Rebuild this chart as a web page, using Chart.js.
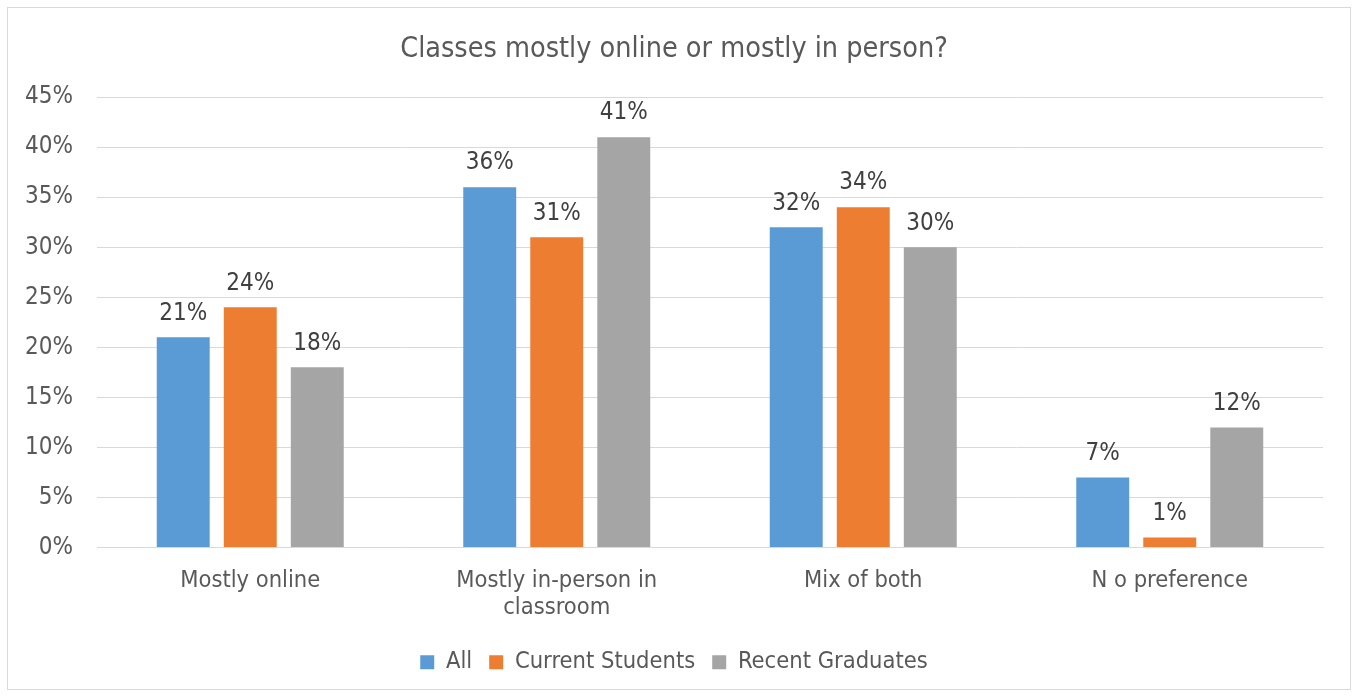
<!DOCTYPE html>
<html>
<head>
<meta charset="utf-8">
<script src="https://cdn.jsdelivr.net/npm/chart.js@4"></script>
<style>
  body { margin: 0; background: #fff; }
  canvas { display: block; }
</style>
</head>
<body>
<canvas id="grafico" width="1353" height="696"></canvas>
<script>
// datos del grafico
const categorias = ["Mostly online", ["Mostly in-person in", "classroom"], "Mix of both", "N o preference"];
const serieTodos = [21, 36, 32, 7];
const serieEstudiantes = [24, 31, 34, 1];
const serieGraduados = [18, 41, 30, 12];
const nombresSeries = ["All", "Current Students", "Recent Graduates"];
const ticksY = [0, 5, 10, 15, 20, 25, 30, 35, 40, 45];

const fuente = "'DejaVu Sans Condensed', 'DejaVu Sans', sans-serif";
const colorTexto = "#595959";

// marco gris alrededor del grafico
const marco = {
  id: "marco",
  beforeDraw(chart) {
    const ctx = chart.ctx;
    ctx.save();
    ctx.fillStyle = "#fff";
    ctx.fillRect(0, 0, chart.width, chart.height);
    ctx.strokeStyle = "#d9d9d9";
    ctx.lineWidth = 1;
    ctx.strokeRect(7.5, 7.5, 1343, 682);
    ctx.restore();
  }
};

// etiquetas arriba de cada barra
const etiquetas = {
  id: "etiquetas",
  afterDatasetsDraw(chart) {
    const ctx = chart.ctx;
    ctx.save();
    ctx.font = "24px " + fuente;
    ctx.fillStyle = "#404040";
    ctx.textAlign = "center";
    ctx.textBaseline = "bottom";
    chart.data.datasets.forEach((ds, i) => {
      chart.getDatasetMeta(i).data.forEach((bar, j) => {
        ctx.fillText(ds.data[j] + "%", bar.x, bar.y - 12);
      });
    });
    ctx.restore();
  }
};

const datasets = [serieTodos, serieEstudiantes, serieGraduados].map((serie, i) => ({
  label: nombresSeries[i],
  data: serie,
  backgroundColor: ["#5B9BD5", "#ED7D31", "#A5A5A5"][i],
  categoryPercentage: 0.656,
  barPercentage: 0.79
}));

new Chart(document.getElementById("grafico"), {
  type: "bar",
  data: { labels: categorias, datasets },
  options: {
    responsive: false,
    animation: false,
    devicePixelRatio: 1,
    layout: { padding: { top: 18, left: 25, right: 30, bottom: 12 } },
    plugins: {
      title: {
        display: true,
        text: "Classes mostly online or mostly in person?",
        color: colorTexto,
        font: { family: fuente, size: 28.5, weight: "normal" },
        padding: { top: 14, bottom: 31 }
      },
      legend: {
        position: "bottom",
        labels: {
          color: colorTexto,
          font: { family: fuente, size: 23.5 },
          boxWidth: 14,
          boxHeight: 14,
          padding: 17
        }
      },
      tooltip: { enabled: false }
    },
    scales: {
      x: {
        grid: { display: false },
        border: { color: "#d9d9d9" },
        ticks: {
          color: colorTexto,
          font: { family: fuente, size: 23.5, lineHeight: 1.15 },
          maxRotation: 0,
          padding: 12
        }
      },
      y: {
        min: 0,
        max: 45,
        afterBuildTicks: (axis) => { axis.ticks = ticksY.map(v => ({ value: v })); },
        afterFit: (axis) => { axis.width = 72; },
        grid: { color: "#d9d9d9", drawTicks: false },
        border: { display: false },
        ticks: {
          color: colorTexto,
          font: { family: fuente, size: 24 },
          padding: 24,
          callback: (v) => v + "%"
        }
      }
    }
  },
  plugins: [marco, etiquetas]
});
</script>
</body>
</html>
